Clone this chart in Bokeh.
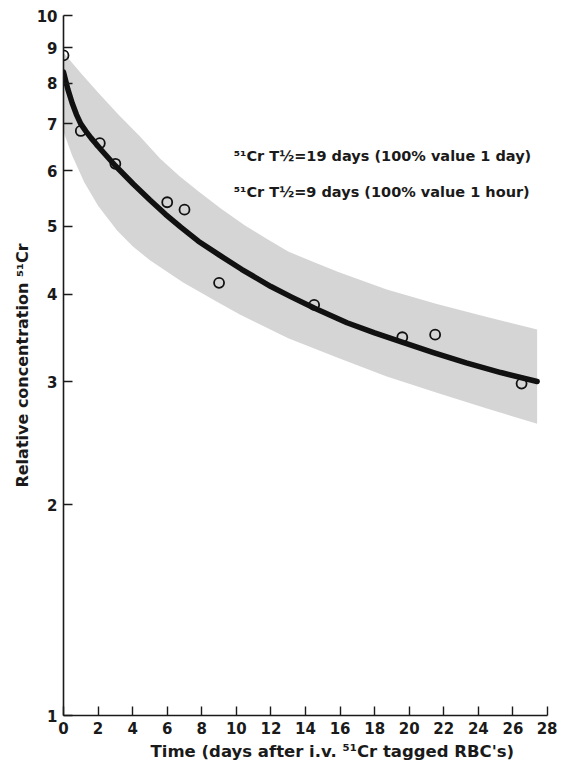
from bokeh.plotting import figure
from bokeh.models import Range1d, FixedTicker, BasicTickFormatter, Label, Title
from bokeh.embed import file_html
from bokeh.resources import INLINE

# measured points (days, relative concentration)
point_days = [0, 1, 2.1, 3, 6, 7, 9, 14.5, 19.6, 21.5, 26.5]
point_conc = [8.77, 6.84, 6.57, 6.14, 5.41, 5.28, 4.15, 3.86, 3.47, 3.50, 2.98]

# fitted curve
curve_days = [0, 0.25, 0.5, 0.75, 1.0, 1.3, 1.6, 2.2, 3.0, 4.05, 5.0, 5.9, 6.8, 7.8, 9.0,
              10.3, 12.0, 13.2, 14.5, 16.4, 18.0, 19.5, 21.4, 23.3, 25.3, 27.4]
curve_conc = [8.3, 7.85, 7.5, 7.22, 7.0, 6.83, 6.68, 6.42, 6.1, 5.74, 5.45, 5.2, 4.98, 4.76, 4.55,
              4.34, 4.10, 3.96, 3.82, 3.64, 3.52, 3.42, 3.30, 3.19, 3.09, 3.0]

# shaded band: upper and lower edges
band_upper_days = [0, 1, 2, 3.2, 4.4, 5.6, 6.7, 7.8, 9.1, 10.5, 11.8, 13, 14.5, 15.9, 18.7, 21.6, 24.5, 27.4]
band_upper_conc = [8.85, 8.28, 7.76, 7.21, 6.73, 6.24, 5.90, 5.61, 5.30, 5.01, 4.79, 4.60, 4.44, 4.30,
                   4.06, 3.87, 3.71, 3.56]
band_lower_days = [0, 0.5, 1.2, 2.0, 3.1, 4.0, 5.0, 6.9, 8.8, 10.2, 13, 15.9, 18.7, 21.6, 24.4, 27.4]
band_lower_conc = [6.82, 6.31, 5.78, 5.35, 4.93, 4.68, 4.47, 4.16, 3.91, 3.74, 3.46, 3.24, 3.05, 2.89,
                   2.75, 2.61]

x_ticks = [0, 2, 4, 6, 8, 10, 12, 14, 16, 18, 20, 22, 24, 26, 28]
y_ticks = [1, 2, 3, 4, 5, 6, 7, 8, 9, 10]

legend_lines = ["\u2075\u00b9Cr  T\u00bd=19 days (100% value 1 day)",
                "\u2075\u00b9Cr  T\u00bd=9 days (100% value 1 hour)"]
x_title = "Time (days after i.v. \u2075\u00b9Cr tagged RBC's)"
y_title = "Relative concentration \u2075\u00b9Cr"

FONT = "DejaVu Sans"
INK = "#1a1a1a"

p = figure(width=557, height=763, output_backend="svg", toolbar_location=None,
           x_range=Range1d(0, 28), y_range=Range1d(1, 10), y_axis_type="log",
           min_border_left=63, min_border_right=10, min_border_top=15, min_border_bottom=6)
p.outline_line_color = None
p.xgrid.visible = False
p.ygrid.visible = False
p.background_fill_color = "white"
p.border_fill_color = "white"

# band
band_x = band_upper_days + band_lower_days[::-1]
band_y = band_upper_conc + band_lower_conc[::-1]
p.patch(band_x, band_y, fill_color="#d5d5d5", line_color=None)

# curve
p.line(curve_days, curve_conc, line_color="#111111", line_width=5.5, line_cap="round", line_join="round")

# points
p.scatter(point_days, point_conc, marker="circle", size=10, fill_color=None,
          line_color="#111111", line_width=1.8)

# axes
for ax in (p.xaxis[0], p.yaxis[0]):
    ax.axis_line_color = INK
    ax.axis_line_width = 1.6
    ax.major_tick_line_color = INK
    ax.major_tick_line_width = 1.4
    ax.major_tick_in = 9
    ax.major_tick_out = 0
    ax.minor_tick_line_color = None
    ax.major_label_text_font = FONT
    ax.major_label_text_font_style = "bold"
    ax.major_label_text_font_size = "15px"
    ax.major_label_text_color = INK
    ax.major_label_standoff = 6

p.xaxis.ticker = FixedTicker(ticks=x_ticks)
p.yaxis.ticker = FixedTicker(ticks=y_ticks)
p.yaxis.formatter = BasicTickFormatter()
p.xaxis.formatter = BasicTickFormatter()

p.yaxis.axis_label = y_title
p.yaxis.axis_label_text_font = FONT
p.yaxis.axis_label_text_font_style = "bold"
p.yaxis.axis_label_text_font_size = "16px"
p.yaxis.axis_label_text_color = INK
p.yaxis.axis_label_standoff = 2

# x-axis title (placed slightly right of centre as in the original)
p.add_layout(Title(text=x_title, align="left", offset=87, text_font=FONT,
                   text_font_style="bold", text_font_size="16.5px", text_color=INK,
                   standoff=6), "below")

# annotation text
p.add_layout(Label(x=9.85, y=6.3, text=legend_lines[0], text_align="left", text_baseline="middle",
                   text_font=FONT, text_font_style="bold", text_font_size="14.5px", text_color=INK))
p.add_layout(Label(x=9.85, y=5.6, text=legend_lines[1], text_align="left", text_baseline="middle",
                   text_font=FONT, text_font_style="bold", text_font_size="14.5px", text_color=INK))

open("out.html", "w").write(file_html(p, INLINE))
